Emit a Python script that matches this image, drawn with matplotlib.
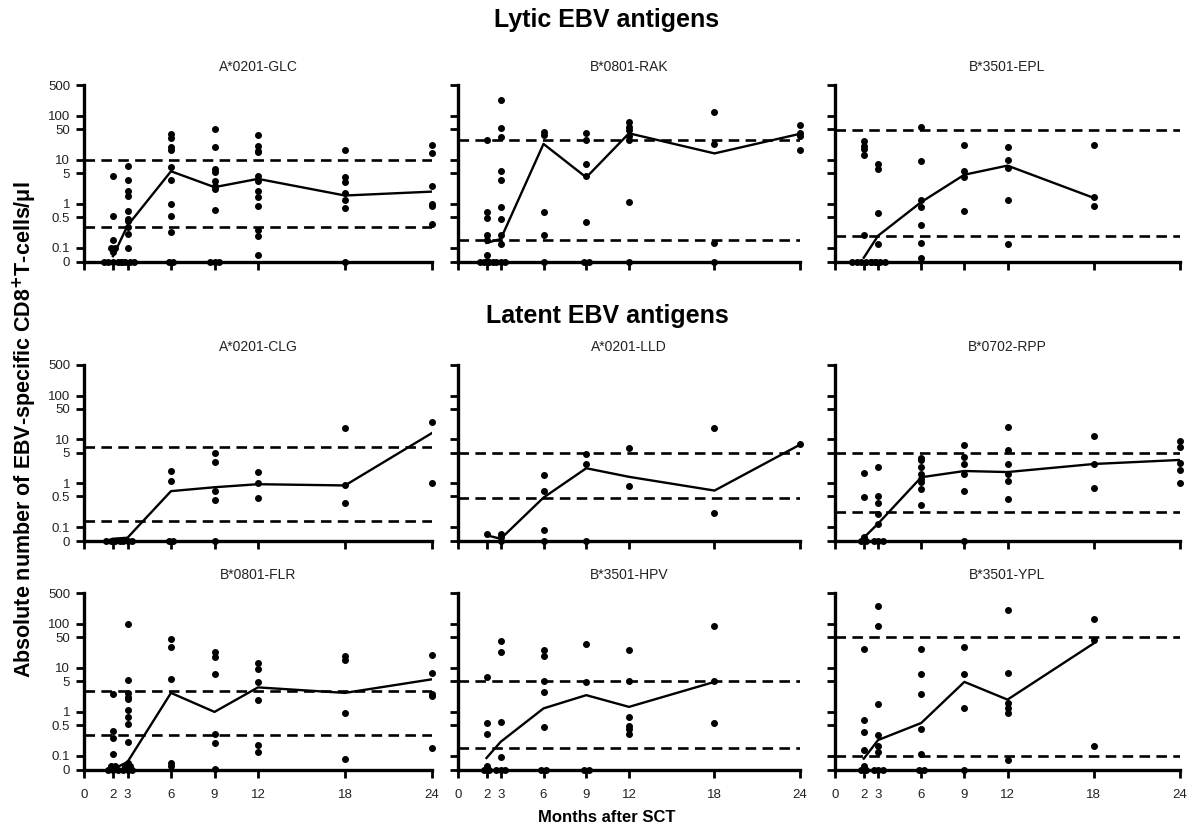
import numpy as np
import matplotlib.pyplot as plt

plt.rcParams['font.family'] = ['Liberation Sans', 'DejaVu Sans']

# months after SCT at which samples were taken
months = [2, 3, 6, 9, 12, 18, 24]
xticks = [0, 2, 3, 6, 9, 12, 18, 24]
yticks = [0.048, 0.1, 0.5, 1, 5, 10, 50, 100, 500]
ytick_labels = ['0', '0.1', '0.5', '1', '5', '10', '50', '100', '500']
y_floor = 0.048  # where "0" sits on the log axis

# ---- Lytic EBV antigens ----
glc_points = [
    [0, 0, 0, 0, 0, 0.08, 0.1, 0.1, 0.15, 0.54, 4.2],
    [7.4, 3.5, 2.0, 1.55, 0.7, 0.45, 0.42, 0.3, 0.21, 0.1, 0, 0, 0, 0],
    [39, 32, 19.5, 17, 6.8, 3.5, 1.0, 0.54, 0.23, 0, 0],
    [49, 19.5, 6.2, 5.2, 3.3, 2.6, 2.2, 0.73, 0, 0, 0],
    [37, 21, 16, 15, 4.4, 3.3, 2.0, 1.4, 0.89, 0.25, 0.19, 0.07],
    [17, 4.0, 3.1, 1.8, 1.2, 0.8, 0],
    [22, 14, 2.5, 1.0, 0.9, 0.35],
]
glc_line = [0.065, 0.32, 5.5, 2.4, 3.7, 1.55, 1.9]
glc_cutoffs = [10, 0.3]

rak_points = [
    [28, 0.65, 0.47, 0.2, 0.15, 0.07, 0.05, 0, 0, 0, 0],
    [230, 52, 33, 5.7, 3.4, 0.84, 0.46, 0.2, 0.12, 0, 0, 0],
    [42, 36, 0.65, 0.2, 0],
    [40, 27.5, 8.1, 4.2, 0.38, 0, 0],
    [72, 57, 48, 34, 28, 1.1, 0],
    [120, 23, 0.13, 0],
    [63, 40, 34, 17],
]
rak_line = [0.13, 0.16, 23, 4.0, 40, 14, 39]
rak_cutoffs = [28, 0.15]

epl_points = [
    [27, 21, 18, 12.6, 0.2, 0, 0, 0, 0, 0, 0],
    [8.1, 6.2, 0.61, 0.12, 0, 0, 0, 0],
    [55, 9.3, 1.2, 0.84, 0.34, 0.13, 0.06],
    [22, 5.5, 4.0, 0.68],
    [19.4, 10, 6.6, 1.2, 0.12],
    [22, 1.4, 0.89],
    [],
]
epl_line = [0.06, 0.19, 1.1, 4.6, 7.4, 1.37, None]
epl_cutoffs = [48, 0.19]

# ---- Latent EBV antigens ----
clg_points = [
    [0, 0, 0, 0],
    [0, 0, 0],
    [1.9, 1.15, 0, 0],
    [4.8, 3.0, 0.68, 0.42, 0],
    [1.8, 1.0, 0.46],
    [18.7, 0.89, 0.35],
    [25, 1.0],
]
clg_line = [0.054, 0.057, 0.66, 0.81, 0.95, 0.89, 14]
clg_cutoffs = [6.6, 0.14]

lld_points = [
    [0.068],
    [0.07, 0.06, 0],
    [1.57, 0.65, 0.087, 0],
    [4.6, 2.75, 0],
    [6.3, 0.85],
    [18.7, 0.21],
    [7.8],
]
lld_line = [0.065, 0.054, 0.47, 2.2, 1.4, 0.68, 7.6]
lld_cutoffs = [5.0, 0.47]

rpp_points = [
    [1.7, 0.48, 0.06, 0, 0],
    [2.4, 0.5, 0.35, 0.2, 0.115, 0, 0, 0],
    [3.8, 3.4, 2.4, 1.6, 1.25, 1.05, 0.74, 0.32],
    [7.4, 3.9, 2.75, 1.6, 0.66, 0],
    [19.4, 5.7, 2.75, 1.6, 1.15, 0.44],
    [11.7, 2.75, 0.78],
    [9, 6.6, 2.85, 2.0, 1.0],
]
rpp_line = [0.057, 0.12, 1.37, 1.9, 1.8, 2.75, 3.4]
rpp_cutoffs = [4.8, 0.22]

flr_points = [
    [2.5, 0.37, 0.26, 0.11, 0.06, 0.06, 0.05, 0, 0, 0],
    [98, 5.2, 2.7, 2.2, 2.0, 1.1, 0.77, 0.54, 0.21, 0.07, 0.06, 0.06, 0, 0, 0],
    [46, 29, 5.5, 0.07, 0.06],
    [23, 18, 7.2, 0.31, 0.2, 0.05],
    [12.6, 9.2, 4.8, 1.9, 0.18, 0.125],
    [18.5, 15, 0.92, 0.087],
    [20, 7.7, 2.6, 2.3, 0.15],
]
flr_line = [0.05, 0.073, 2.7, 1.0, 3.6, 2.7, 5.5]
flr_cutoffs = [2.95, 0.3]

hpv_points = [
    [6.2, 0.56, 0.32, 0.06, 0.05, 0, 0],
    [41, 23, 0.59, 0.093, 0, 0, 0],
    [26, 18.5, 5.0, 2.85, 0.46, 0, 0],
    [34, 4.8, 0, 0],
    [26, 5.0, 0.77, 0.47, 0.4, 0.32],
    [89, 5.0, 0.56],
    [],
]
hpv_line = [0.09, 0.21, 1.2, 2.4, 1.3, 4.8, None]
hpv_cutoffs = [5.0, 0.15]

ypl_points = [
    [27, 0.65, 0.35, 0.14, 0.06, 0, 0],
    [250, 89, 1.5, 0.3, 0.17, 0.12, 0, 0, 0],
    [27, 7.2, 2.6, 0.4, 0.11, 0, 0],
    [29, 7.4, 1.2, 0],
    [204, 7.7, 1.6, 1.2, 0.95, 0.08],
    [126, 42, 0.17],
    [],
]
ypl_line = [0.087, 0.23, 0.56, 4.8, 1.9, 36, None]
ypl_cutoffs = [50, 0.1]

panels = [
    ('A*0201-GLC', glc_points, glc_line, glc_cutoffs),
    ('B*0801-RAK', rak_points, rak_line, rak_cutoffs),
    ('B*3501-EPL', epl_points, epl_line, epl_cutoffs),
    ('A*0201-CLG', clg_points, clg_line, clg_cutoffs),
    ('A*0201-LLD', lld_points, lld_line, lld_cutoffs),
    ('B*0702-RPP', rpp_points, rpp_line, rpp_cutoffs),
    ('B*0801-FLR', flr_points, flr_line, flr_cutoffs),
    ('B*3501-HPV', hpv_points, hpv_line, hpv_cutoffs),
    ('B*3501-YPL', ypl_points, ypl_line, ypl_cutoffs),
]


def spread(vals, step=0.32):
    # side-by-side offsets for points that would sit on top of each other
    offs = np.zeros(len(vals))
    for v in np.unique(vals):
        idx = np.where(vals == v)[0]
        n = len(idx)
        offs[idx] = (np.arange(n) - (n - 1) / 2) * step
    return offs


W, H = 1193, 832
fig = plt.figure(figsize=(W / 100, H / 100), dpi=100)

col_left = [84, 458, 835]
col_width = [348, 342, 345]
row_top = [85, 365, 593]
row_height = [177, 176, 177]

for i, (title, pts, line, cutoffs) in enumerate(panels):
    r, c = divmod(i, 3)
    ax = fig.add_axes([col_left[c] / W, 1 - (row_top[r] + row_height[r]) / H,
                       col_width[c] / W, row_height[r] / H])
    ax.set_yscale('log')
    ax.set_xlim(0, 24)
    ax.set_ylim(y_floor, 500)

    for v in cutoffs:
        ax.axhline(v, color='black', lw=1.9, ls=(0, (4, 2.4)), zorder=1)

    for m, vals in zip(months, pts):
        if not vals:
            continue
        vals = np.array(vals, dtype=float)
        vals = np.where(vals <= 0, y_floor, vals)
        ax.plot(m + spread(vals), vals, 'o', color='black', ms=4.0,
                clip_on=False, zorder=3)

    lx = [m for m, v in zip(months, line) if v is not None]
    ly = [v for v in line if v is not None]
    ax.plot(lx, ly, '-', color='black', lw=1.7, zorder=2)

    ax.set_title(title, fontsize=10, color='#222222', pad=10)

    for s in ['top', 'right']:
        ax.spines[s].set_visible(False)
    for s in ['left', 'bottom']:
        ax.spines[s].set_linewidth(2.4)
    ax.tick_params(axis='both', which='major', direction='out', length=6,
                   width=2, color='black', labelsize=9.5, labelcolor='#222222')
    ax.tick_params(axis='y', which='minor', left=False)
    ax.set_xticks(xticks)
    ax.set_yticks(yticks)
    if r == 2:
        ax.set_xticklabels([str(t) for t in xticks])
        ax.tick_params(axis='x', pad=8)
    else:
        ax.set_xticklabels([])
    if c == 0:
        ax.set_yticklabels(ytick_labels)
        ax.tick_params(axis='y', pad=4)
    else:
        ax.set_yticklabels([])

fig.text(607 / W, 1 - 20 / H, 'Lytic EBV antigens', ha='center', va='center',
         fontsize=18, fontweight='bold')
fig.text(607 / W, 1 - 316 / H, 'Latent EBV antigens', ha='center', va='center',
         fontsize=18, fontweight='bold')
fig.text(25 / W, 1 - 430 / H,
         r'Absolute number of EBV-specific CD8$^{\mathbf{+}}$T-cells/$\mathregular{\mu}$l',
         rotation=90, ha='center', va='center', fontsize=15.5, fontweight='bold')
fig.text(607 / W, 1 - 817 / H, 'Months after SCT', ha='center', va='center',
         fontsize=12, fontweight='bold')

fig.savefig('out.png', dpi=100)
